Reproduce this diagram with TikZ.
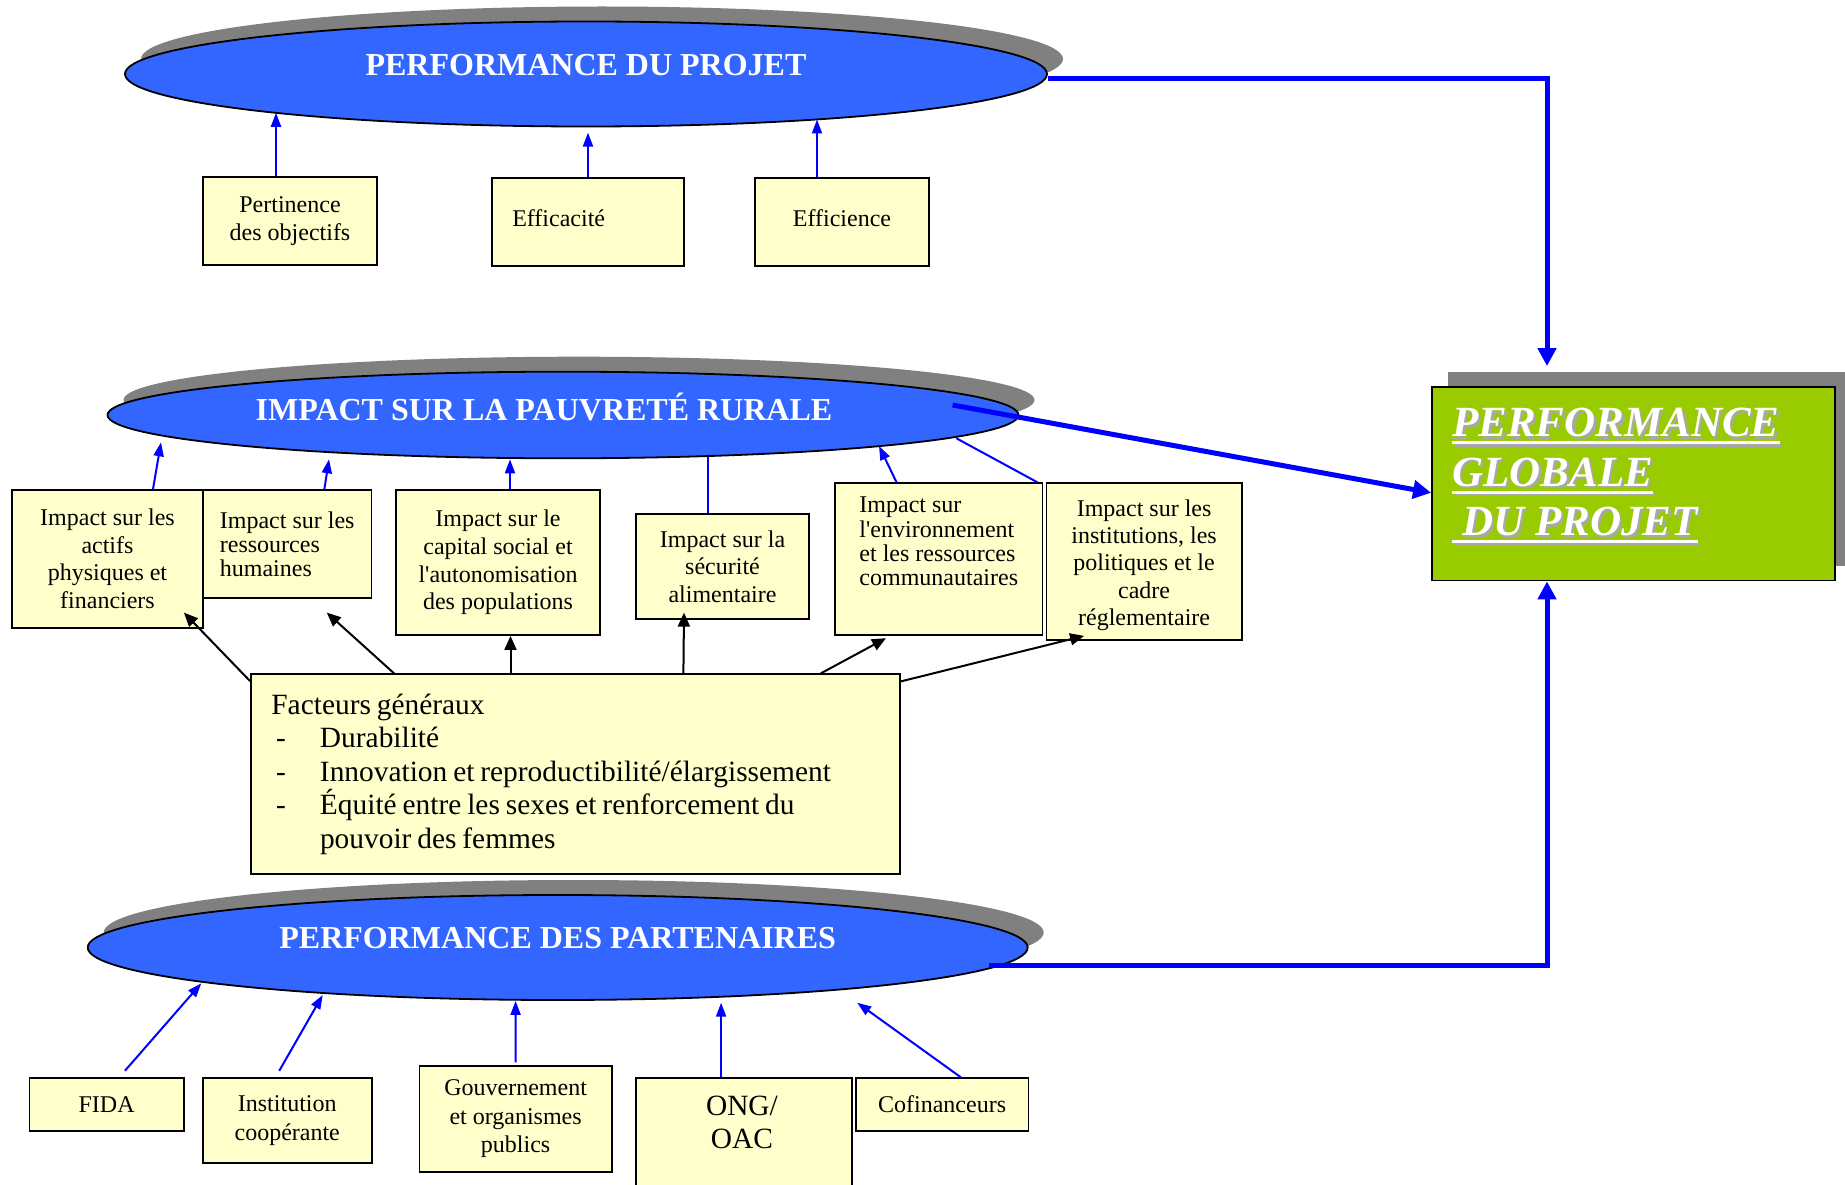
\documentclass[tikz,border=0pt]{standalone}
\usepackage{fontspec}
\setmainfont{Liberation Serif}
\usetikzlibrary{shapes.geometric,arrows.meta,shadows}

\definecolor{ovalblue}{HTML}{3366FF}
\definecolor{boxyellow}{HTML}{FFFFCC}
\definecolor{panelgreen}{HTML}{99CC00}
\definecolor{shadowgray}{HTML}{808080}
\definecolor{arrowblue}{HTML}{0000FF}
\definecolor{lettershade}{HTML}{A8A8A8}

% white underlined word with a soft grey drop copy
\newcommand{\ulword}[1]{\setbox0=\hbox{#1}\rlap{\rule[-7.6pt]{\wd0}{3.3pt}}\box0}
\newcommand{\shadowed}[1]{\rlap{\kern2.5pt\raisebox{-2.5pt}{\color{lettershade}\ulword{#1}}}\ulword{#1}}
% lift a single line a little without changing its box
\newcommand{\lift}[1]{\raisebox{4pt}[\height][\depth]{#1}}
% narrower word spaces for the factor list
\newcommand{\tightspaces}{\spaceskip=0.2em\relax}

\tikzset{
  boxnode/.style={draw=black, line width=1.8pt, fill=boxyellow, inner sep=0pt,
    font=\fontsize{24}{27.6}\selectfont},
  ovalnode/.style={ellipse, draw=black, line width=1.8pt, fill=ovalblue, inner sep=0pt,
    drop shadow={shadow xshift=16pt, shadow yshift=15pt, fill=shadowgray, opacity=1}},
  ovaltitle/.style={text=white, inner sep=0pt, font=\fontsize{32}{36}\selectfont\bfseries},
  thinblue/.style={draw=arrowblue, line width=2pt, -{Triangle[length=14pt,width=10pt]}},
  thinline/.style={draw=arrowblue, line width=2pt},
  thickblue/.style={draw=arrowblue, line width=5pt, -{Triangle[length=18pt,width=18pt]}},
  blackarrow/.style={draw=black, line width=2pt, -{Triangle[length=14pt,width=12pt]}},
}

\begin{document}
\begin{tikzpicture}[x=1pt,y=-1pt]
\useasboundingbox (0,0) rectangle (1845,1185);

% ---------- project performance ----------
\node[ovalnode, minimum width=922pt, minimum height=105pt,
  label={[ovaltitle, yshift=9.3pt]center:PERFORMANCE DU PROJET}] (e1) at (586,74) {};
\node[boxnode, minimum width=174pt, minimum height=88pt, align=center] (perti) at (290,221) {Pertinence\\des objectifs};
\node[boxnode, minimum height=88pt, text width=151.5pt, inner xsep=20.25pt, align=left] (effa) at (588,222) {\lift{Efficacité}};
\node[boxnode, minimum width=174pt, minimum height=88pt, align=center] (effi) at (842,222) {\lift{Efficience}};

% ---------- overall performance ----------
\node[draw=black, line width=1.8pt, fill=panelgreen, inner sep=0pt,
  minimum width=403pt, minimum height=193.5pt,
  drop shadow={shadow xshift=16pt, shadow yshift=15pt, fill=shadowgray, opacity=1},
  label={[anchor=north west, xshift=21pt, yshift=-22pt, align=left, inner sep=0pt, text=white,
    font=\fontsize{43}{49.5}\selectfont\bfseries\itshape]north west:{\shadowed{PERFORMANCE}\\\shadowed{GLOBALE}\\\shadowed{\hspace*{10pt}DU PROJET}}}]
  (g) at (1633.5,483.75) {};

% ---------- rural poverty impact ----------
\node[ovalnode, minimum width=911pt, minimum height=86.6pt,
  label={[ovaltitle, xshift=-19pt, yshift=7.6pt]center:IMPACT SUR LA PAUVRETÉ RURALE}] (e2) at (563,415) {};
\node[boxnode, minimum width=191pt, minimum height=137.7pt, align=center] (imp1) at (107.5,558.85) {Impact sur les\\actifs\\physiques et\\financiers};
\node[boxnode, minimum width=168.4pt, minimum height=108pt, align=left, font=\fontsize{24}{24.2}\selectfont] (imp2) at (287.2,544) {Impact sur les\\ressources\\humaines};
\node[boxnode, minimum width=204pt, minimum height=145pt, align=center] (imp3) at (498,562.5) {Impact sur le\\capital social et\\l\textquotesingle autonomisation\\des populations};
\node[boxnode, minimum width=173pt, minimum height=105.3pt, align=center] (imp4) at (722.5,566.65) {Impact sur la\\sécurité\\alimentaire};
\node[boxnode, minimum width=207.5pt, minimum height=151.7pt,
  label={[anchor=north, yshift=-14.5pt, align=left, inner sep=0pt, font=\fontsize{24}{24.3}\selectfont]north:{Impact sur\\l\textquotesingle environnement\\et les ressources\\communautaires}}]
  (imp5) at (938.75,559.15) {};
\node[boxnode, minimum width=195.2pt, minimum height=156.7pt,
  label={[anchor=north, yshift=-16.8pt, align=center, inner sep=0pt, font=\fontsize{24}{27.4}\selectfont]north:{Impact sur les\\institutions, les\\politiques et le\\cadre\\réglementaire}}]
  (imp6) at (1144.1,561.65) {};

\node[boxnode, minimum height=200pt, text width=608.2pt, inner xsep=20.4pt, align=left,
  font=\fontsize{29.4}{33.5}\selectfont] (fact) at (575.5,774.3)
  {\tightspaces Facteurs généraux\\
   \makebox[48.6pt][l]{\hspace{4.6pt}-}Durabilité\\
   \makebox[48.6pt][l]{\hspace{4.6pt}-}Innovation et reproductibilité/élargissement\\
   \makebox[48.6pt][l]{\hspace{4.6pt}-}Équité entre les sexes et renforcement du\\
   \hspace*{48.6pt}pouvoir des femmes};

% ---------- partners ----------
\node[ovalnode, minimum width=940pt, minimum height=105pt,
  label={[ovaltitle, yshift=9.5pt]center:PERFORMANCE DES PARTENAIRES}] (e3) at (557.7,947.5) {};
\node[boxnode, minimum width=154.3pt, minimum height=52.4pt] (fida) at (106.65,1104.5) {FIDA};
\node[boxnode, minimum width=169.1pt, minimum height=84.4pt, align=center, font=\fontsize{24}{28.3}\selectfont] (inst) at (287.25,1120.5) {Institution\\coopérante};
\node[boxnode, minimum width=192.2pt, minimum height=105.7pt, align=center, font=\fontsize{24}{28.3}\selectfont] (gouv) at (515.6,1118.85) {Gouvernement\\et organismes\\publics};
\node[boxnode, minimum width=216.7pt, minimum height=121.7pt,
  label={[anchor=north, xshift=-2pt, yshift=-18pt, align=center, inner sep=0pt, font=\fontsize{29.4}{33.3}\selectfont]north:{ONG/\\OAC}}]
  (ong) at (743.95,1139.15) {};
\node[boxnode, minimum width=172.6pt, minimum height=52.4pt] (cofi) at (942.1,1104.5) {Cofinanceurs};

% ---------- connectors: criteria to project performance ----------
\draw[thinblue] ([xshift=-14pt]perti.north) -- ([xshift=-310pt,yshift=-38.8pt]e1.center);
\draw[thinblue] (effa.north) -- ([xshift=2pt,yshift=-5.2pt]e1.south);
\draw[thinblue] ([xshift=-25pt]effi.north) -- ([xshift=231pt,yshift=-45.5pt]e1.center);

% ---------- connectors: impacts to rural poverty ----------
\draw[thinblue] ([xshift=45.5pt]imp1.north) -- ([xshift=-402pt,yshift=-27.3pt]e2.center);
\draw[thinblue] ([xshift=37.2pt]imp2.north) -- ([xshift=-234pt,yshift=-44.3pt]e2.center);
\draw[thinblue] ([xshift=12pt]imp3.north) -- ([xshift=-53pt,yshift=-44.3pt]e2.center);
\draw[thinline] ([xshift=-14.8pt]imp4.north) -- ([xshift=144.7pt,yshift=-41.7pt]e2.center);
\draw[thinblue] ([xshift=-42.15pt]imp5.north) -- ([xshift=316pt,yshift=-31pt]e2.center);
\draw[thinline] ([xshift=-8pt]imp6.north west) -- ([xshift=393.4pt,yshift=-23.3pt]e2.center);

% ---------- connectors: general factors to impacts ----------
\draw[blackarrow] ([yshift=-7.7pt]fact.north west) -- ([xshift=-20pt,yshift=16pt]imp1.south east);
\draw[blackarrow] ([xshift=144pt]fact.north west) -- ([xshift=39.6pt,yshift=-13.7pt]imp2.south);
\draw[blackarrow] ([xshift=-65pt]fact.north) -- ([xshift=12.5pt]imp3.south);
\draw[blackarrow] ([xshift=107.9pt]fact.north) -- ([xshift=-38.5pt,yshift=7.6pt]imp4.south);
\draw[blackarrow] ([xshift=245.25pt]fact.north) -- ([xshift=-52.75pt,yshift=-2.3pt]imp5.south);
\draw[blackarrow] ([yshift=-8pt]fact.north east) -- ([xshift=-60pt,yshift=5pt]imp6.south);

% ---------- connectors: partners ----------
\draw[thinblue] ([xshift=18.25pt,yshift=6.6pt]fida.north) -- ([xshift=-356.4pt,yshift=-35.8pt]e3.center);
\draw[thinblue] ([xshift=-8pt,yshift=6.6pt]inst.north) -- ([xshift=-235pt,yshift=-47.5pt]e3.center);
\draw[thinblue] ([yshift=2.7pt]gouv.north) -- ([xshift=-42.1pt]e3.south);
\draw[thinblue] ([xshift=-22.85pt]ong.north) -- ([xshift=163.4pt,yshift=-55.2pt]e3.center);
\draw[thinblue] ([xshift=18.9pt]cofi.north) -- ([xshift=299.5pt,yshift=-55.2pt]e3.center);

% ---------- connectors: the three levels to overall performance ----------
\draw[thickblue] ([yshift=-5pt]e1.east) -| ([xshift=-86.5pt,yshift=20pt]g.north);
\draw[thickblue] ([xshift=389.6pt,yshift=10pt]e2.center) -- ([yshift=-9pt]g.west);
\draw[thickblue] ([xshift=431.3pt,yshift=-17.5pt]e3.center) -| ([xshift=-86.5pt]g.south);
\end{tikzpicture}
\end{document}
